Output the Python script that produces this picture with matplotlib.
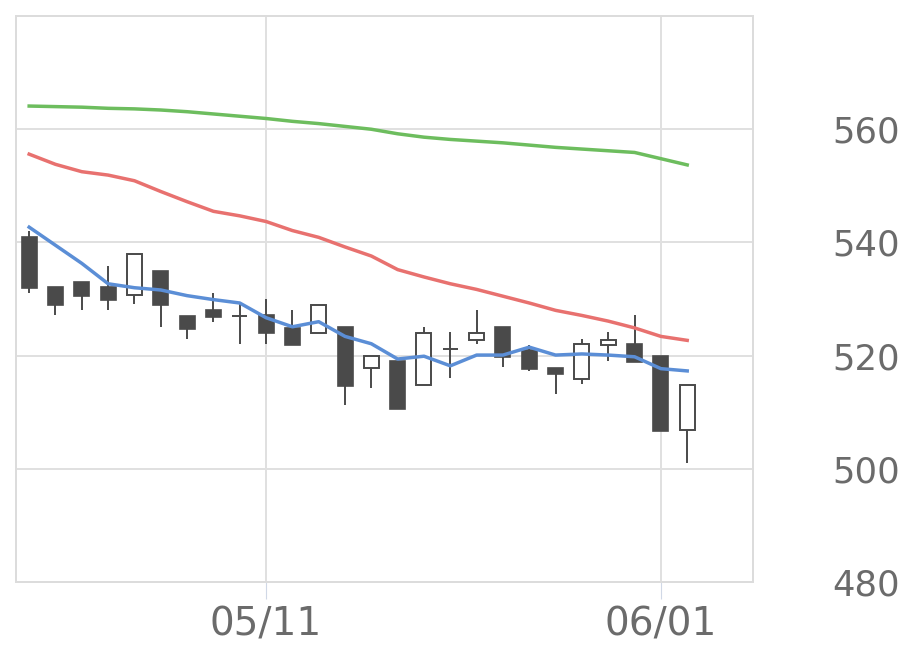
import matplotlib
matplotlib.use('Agg')
import matplotlib.pyplot as plt
import numpy as np

# daily candles (open, high, low, close)
opens = [541.0, 532.1, 533.0, 532.1, 530.8, 535.0, 527.0, 528.0, 527.0, 527.1,
         524.9, 524.0, 525.0, 517.8, 519.1, 514.8, 521.1, 522.7, 525.0, 521.0,
         517.9, 515.9, 521.8, 522.1, 519.9, 506.8]
highs = [542.1, 532.1, 533.0, 535.9, 538.0, 535.0, 527.0, 531.0, 529.2, 530.0,
         528.0, 529.0, 525.0, 519.9, 519.1, 525.0, 524.1, 528.0, 525.0, 521.9,
         517.9, 523.0, 524.1, 527.1, 519.9, 514.8]
lows = [531.0, 527.1, 528.0, 528.0, 529.2, 525.0, 523.0, 526.0, 522.0, 522.1,
        521.8, 524.0, 511.2, 514.2, 510.6, 514.8, 516.1, 522.1, 518.0, 517.2,
        513.2, 515.0, 519.1, 518.9, 506.7, 501.0]
closes = [531.9, 528.9, 530.6, 529.8, 538.0, 528.9, 524.7, 526.9, 527.0, 524.0,
          521.8, 529.0, 514.7, 519.9, 510.6, 524.0, 521.1, 524.0, 519.8, 517.7,
          516.8, 522.0, 522.8, 518.9, 506.7, 514.8]

# moving averages
ma_short = [542.7, 539.5, 536.3, 532.7, 532.0, 531.6, 530.6, 529.9, 529.3, 526.7,
            525.1, 526.0, 523.4, 522.1, 519.4, 519.9, 518.2, 520.1, 520.1, 521.5,
            520.1, 520.3, 520.1, 519.8, 517.7, 517.3]
ma_mid = [555.6, 553.8, 552.5, 551.9, 550.9, 549.0, 547.2, 545.5, 544.7, 543.7,
          542.1, 540.9, 539.2, 537.6, 535.2, 533.9, 532.7, 531.7, 530.5, 529.3,
          528.0, 527.1, 526.1, 524.9, 523.4, 522.7]
ma_long = [564.1, 564.0, 563.9, 563.7, 563.6, 563.4, 563.1, 562.7, 562.3, 561.9,
           561.4, 561.0, 560.5, 560.0, 559.2, 558.6, 558.2, 557.9, 557.6, 557.2,
           556.8, 556.5, 556.2, 555.9, 554.8, 553.7]

tick_pos = [9, 24]
tick_labels = ['05/11', '06/01']
y_ticks = [480, 500, 520, 540, 560]

fig = plt.figure(figsize=(9.2, 6.69), dpi=100)
ax = fig.add_axes([0.0174, 0.130, 0.8011, 0.846])

x = np.arange(len(opens))
o = np.array(opens)
c = np.array(closes)
up = c >= o
dark = '#4a4a4a'

ax.vlines(x, lows, highs, color=dark, linewidth=1.4, zorder=2)
ax.bar(x[~up], (o - c)[~up], bottom=c[~up], width=0.57,
       color=dark, edgecolor=dark, linewidth=1.2, zorder=3)
ax.bar(x[up], (c - o)[up], bottom=o[up], width=0.57,
       color='white', edgecolor=dark, linewidth=1.4, zorder=3)

ax.plot(x, ma_long, color='#6dbd5e', linewidth=2.5, zorder=4)
ax.plot(x, ma_mid, color='#e8716f', linewidth=2.5, zorder=4)
ax.plot(x, ma_short, color='#5b8ed6', linewidth=2.5, zorder=4)

ax.set_xlim(-0.5, 27.5)
ax.set_ylim(480, 580)
ax.set_xticks(tick_pos)
ax.set_xticklabels(tick_labels)
ax.set_yticks(y_ticks)
ax.yaxis.tick_right()
ax.tick_params(axis='y', length=0, pad=57, labelsize=25.5, labelcolor='#6b6b6b')
ax.tick_params(axis='x', length=12, color='#d0d8e6', pad=5, labelsize=28,
               labelcolor='#6b6b6b')
ax.grid(True, color='#e0e0e0', linewidth=1.4, zorder=0)
ax.set_axisbelow(True)
for s in ax.spines.values():
    s.set_color('#dcdcdc')
    s.set_linewidth(1.4)

plt.savefig('out.png', dpi=100)
